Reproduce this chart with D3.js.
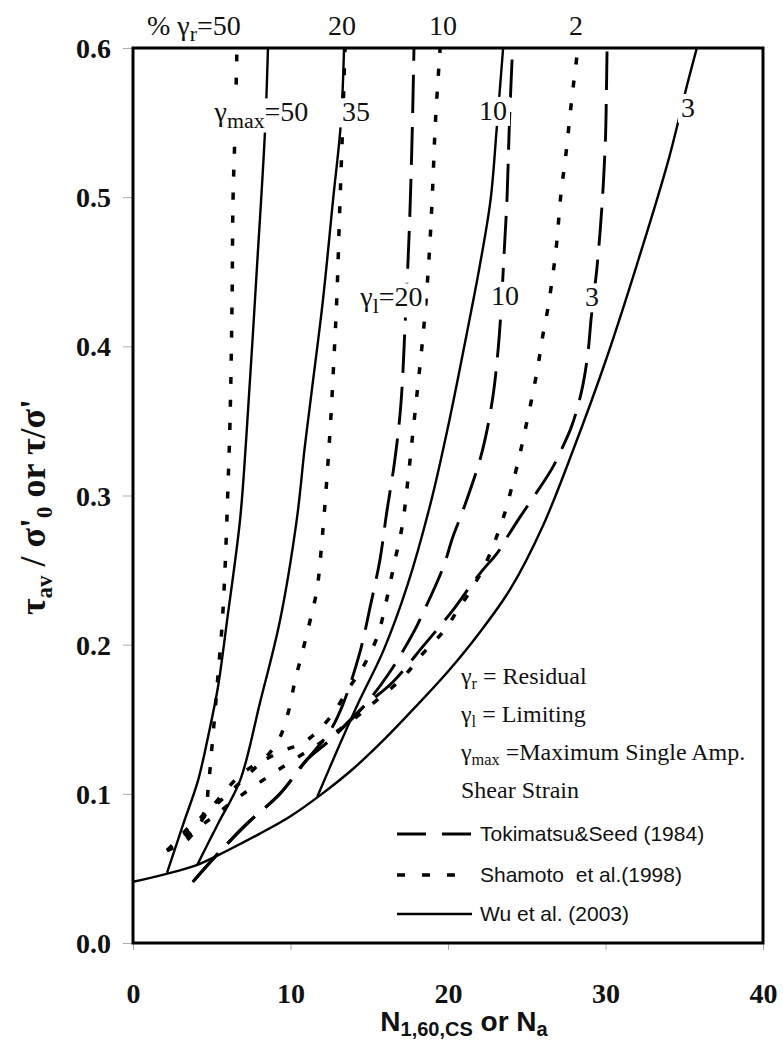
<!DOCTYPE html>
<html>
<head>
<meta charset="utf-8">
<script src="https://cdn.jsdelivr.net/npm/d3@7"></script>
<style>
  html, body { margin: 0; padding: 0; background: #fff; }
  svg { display: block; }
  text { white-space: pre; }
</style>
</head>
<body>
<svg id="chart" width="783" height="1040"></svg>
<script>
// ---------------- DATA ----------------
const xTicks = [0, 10, 20, 30, 40];
const yTicks = [0, 0.1, 0.2, 0.3, 0.4, 0.5, 0.6];

// Wu et al. (2003) - solid
const wu3  = [[0,0.041],[2,0.046],[4,0.052],[6,0.062],[8,0.073],[10,0.085],[12,0.1],[14,0.117],[16,0.137],[18,0.159],[20,0.182],[22,0.208],[24,0.238],[26,0.279],[28,0.332],[30,0.39],[32,0.455],[34,0.525],[35.2,0.576],[35.8,0.6]];
const wu10 = [[11.7,0.098],[13,0.13],[14.4,0.163],[15.9,0.196],[17.4,0.239],[18.9,0.295],[20.1,0.351],[21.2,0.409],[22.0,0.453],[22.7,0.498],[23.1,0.547],[23.5,0.6]];
const wu35 = [[4.06,0.052],[5.4,0.08],[6.8,0.109],[8.06,0.161],[9.33,0.216],[10.4,0.284],[10.9,0.332],[11.3,0.366],[12.06,0.431],[12.7,0.498],[13.2,0.55],[13.4,0.6]];
const wu50 = [[2.16,0.047],[3.2,0.08],[4.13,0.109],[4.8,0.14],[5.4,0.172],[5.97,0.216],[6.8,0.284],[7.2,0.34],[7.87,0.453],[8.38,0.544],[8.57,0.6]];

// Tokimatsu & Seed (1984) - long dashes
const tok20 = [[3.8,0.041],[5.4,0.06],[7.24,0.08],[9.33,0.1],[11.05,0.123],[12.5,0.142],[13.33,0.16],[14.41,0.195],[15.05,0.225],[15.68,0.257],[16.1,0.288],[16.6,0.322],[17.0,0.36],[17.3,0.42],[17.55,0.48],[17.72,0.54],[17.84,0.6]];
const tok10 = [[3.8,0.041],[5.4,0.06],[7.24,0.08],[9.33,0.1],[11.05,0.123],[12.5,0.136],[14.6,0.158],[16.2,0.18],[17.8,0.208],[18.4,0.221],[19.7,0.252],[20.3,0.272],[20.95,0.29],[22.03,0.324],[22.5,0.345],[22.9,0.37],[23.2,0.4],[23.4,0.43],[23.55,0.46],[23.75,0.5],[23.9,0.55],[24.1,0.6]];
const tok3  = [[3.8,0.041],[5.4,0.06],[7.24,0.08],[9.33,0.1],[11.05,0.123],[12.5,0.136],[14.6,0.158],[16.5,0.175],[18.5,0.2],[20.3,0.223],[21.4,0.239],[22.2,0.25],[23.1,0.261],[23.75,0.272],[24.6,0.286],[25.5,0.3],[26.6,0.318],[27.3,0.333],[27.8,0.345],[28.25,0.36],[28.6,0.376],[28.9,0.397],[29.1,0.42],[29.46,0.453],[29.8,0.498],[30.0,0.54],[30.05,0.565],[30.1,0.6]];

// Shamoto et al. (1998) - short dashes
const sha50 = [[2.2,0.062],[3.3,0.075],[4.5,0.087],[4.8,0.107],[5.0,0.13],[5.2,0.154],[5.4,0.18],[5.65,0.212],[5.84,0.25],[6.03,0.306],[6.16,0.35],[6.29,0.431],[6.35,0.498],[6.48,0.545],[6.6,0.6]];
const sha20 = [[2.16,0.062],[4.7,0.087],[7.62,0.116],[9.14,0.134],[9.84,0.154],[10.29,0.176],[10.73,0.194],[11.24,0.216],[11.68,0.237],[12.0,0.27],[12.3,0.31],[12.55,0.35],[12.75,0.39],[12.95,0.435],[13.12,0.49],[13.3,0.545],[13.46,0.6]];
const sha10 = [[2.16,0.062],[3.43,0.069],[4.7,0.087],[6.98,0.114],[9.14,0.127],[11.05,0.136],[12.5,0.151],[13.78,0.172],[14.6,0.185],[15.5,0.205],[16.1,0.23],[16.6,0.255],[17.1,0.28],[17.45,0.31],[17.75,0.34],[18.05,0.37],[18.3,0.395],[18.54,0.422],[18.8,0.46],[19.0,0.5],[19.2,0.55],[19.5,0.6]];
const sha2  = [[2.16,0.062],[4.5,0.08],[7,0.1],[9.5,0.118],[12,0.135],[14,0.15],[15.5,0.163],[17.14,0.178],[18.4,0.194],[19.8,0.21],[20.6,0.223],[21.6,0.239],[22.5,0.257],[23,0.27],[23.6,0.288],[24.06,0.306],[24.57,0.328],[24.9,0.344],[25.3,0.364],[25.7,0.386],[26,0.406],[26.35,0.426],[26.67,0.449],[26.9,0.469],[27.15,0.5],[27.5,0.53],[27.85,0.565],[28.25,0.6]];

// curve-label annotations (text, data x, data y)
const wuLabels  = [["γmax=50", 8.19, 0.557], ["35", 14.16, 0.557], ["10", 22.86, 0.558], ["3", 35.24, 0.56]];
const tokLabels = [["γl=20", 16.44, 0.433], ["10", 23.62, 0.434], ["3", 29.14, 0.433]];
const shaLabels = [["%γr=50", 0.89, 0.615], ["20", 13.27, 0.615], ["10", 19.68, 0.615], ["2", 28.13, 0.615]];

const defText  = ["γr = Residual", "γl = Limiting", "γmax =Maximum Single Amp.", "Shear Strain"];
const legendItems = ["Tokimatsu&Seed (1984)", "Shamoto  et al.(1998)", "Wu et al. (2003)"];

// ---------------- CHART ----------------
const svg = d3.select("#chart");
const L = 133, R = 763, T = 48, B = 943;
const x = d3.scaleLinear().domain([0, 40]).range([L, R]);
const y = d3.scaleLinear().domain([0, 0.6]).range([B, T]);

const serif = "'Liberation Serif', 'Times New Roman', serif";
const sans = "'Liberation Sans', Arial, sans-serif";

// axes (light ticks outside)
const xAxis = svg.append("g").attr("transform", `translate(0,${B})`)
  .call(d3.axisBottom(x).tickValues(xTicks).tickSize(7).tickFormat(d3.format("d")));
const yAxis = svg.append("g").attr("transform", `translate(${L},0)`)
  .call(d3.axisLeft(y).tickValues(yTicks).tickSize(10).tickPadding(12).tickFormat(d3.format(".1f")));
[xAxis, yAxis].forEach(g => {
  g.select(".domain").remove();
  g.selectAll(".tick line").attr("stroke", "#aaa").attr("stroke-width", 1);
  g.selectAll(".tick text").attr("fill", "#111").style("font-family", serif)
    .style("font-weight", "bold").style("font-size", "28px");
});
xAxis.selectAll(".tick text").attr("y", 60).attr("dy", "0");
yAxis.selectAll(".tick text").attr("dy", "0.34em");

// clip
svg.append("clipPath").attr("id", "plotclip").append("rect")
  .attr("x", L).attr("y", T).attr("width", R - L).attr("height", B - T);

const line = d3.line().x(d => x(d[0])).y(d => y(d[1])).curve(d3.curveCatmullRom.alpha(0.5));
const plot = svg.append("g").attr("clip-path", "url(#plotclip)");

const styles = {
  wu:  { dash: null, w: 2.4 },
  tok: { dash: "38,14", w: 2.9 },
  sha: { dash: "7,16", w: 3.5 }
};
function drawSet(arrs, st) {
  plot.selectAll(null).data(arrs).enter().append("path")
    .attr("d", line).attr("fill", "none").attr("stroke", "#000")
    .attr("stroke-width", st.w).attr("stroke-dasharray", st.dash)
    .attr("stroke-linecap", "butt").attr("stroke-linejoin", "round");
}
drawSet([sha50, sha20, sha10, sha2], styles.sha);
drawSet([tok20, tok10, tok3], styles.tok);
drawSet([wu3, wu10, wu35, wu50], styles.wu);

// label helper with subscript support
function addRich(g, txt, size, subScale) {
  const t = g.append("text").style("font-family", serif).style("font-size", size + "px").attr("fill", "#111");
  const m = txt.match(/^(%?)(γ)(max|r|l)(\s?=.*)$/);
  if (m) {
    if (m[1]) t.append("tspan").text("% ");
    t.append("tspan").text(m[2]);
    t.append("tspan").text(m[3]).style("font-size", (size * subScale) + "px").attr("dy", size * 0.22);
    t.append("tspan").text(m[4]).attr("dy", -size * 0.22);
  } else {
    t.text(txt);
  }
  return t;
}
function labelSet(arr, size, masked) {
  arr.forEach(([txt, dx, dy]) => {
    const g = svg.append("g");
    const bg = g.append("rect").attr("fill", "#fff");
    const t = addRich(g, txt, size, 0.78);
    t.attr("x", 0).attr("y", 0);
    const bb = t.node().getBBox();
    let tx = x(dx) - bb.width / 2;
    if (txt.startsWith("%")) tx = x(dx);
    const ty = y(dy) + size * 0.33;
    g.attr("transform", `translate(${tx},${ty})`);
    if (masked) bg.attr("x", bb.x - 3).attr("y", bb.y + 2).attr("width", bb.width + 6).attr("height", bb.height - 2);
    else bg.remove();
  });
}
labelSet(wuLabels, 28, true);
labelSet(tokLabels, 28, true);
labelSet(shaLabels, 28, false);

// frame
svg.append("rect").attr("x", L).attr("y", T).attr("width", R - L).attr("height", B - T)
  .attr("fill", "none").attr("stroke", "#000").attr("stroke-width", 3);

// definitions text
defText.forEach((s, i) => {
  const t = addRich(svg, s, 24, 0.68);
  t.attr("x", 461).attr("y", 684 + i * 38);
});

// legend
const legY = [834, 875, 914];
const legStyles = [styles.tok, styles.sha, styles.wu];
const legDash = ["29,16", "8,17", null];
legendItems.forEach((s, i) => {
  svg.append("line").attr("x1", 397).attr("x2", 472).attr("y1", legY[i]).attr("y2", legY[i])
    .attr("stroke", "#000").attr("stroke-width", legStyles[i].w).attr("stroke-dasharray", legDash[i]);
  svg.append("text").attr("x", 480).attr("y", legY[i] + 7).text(s)
    .style("font-family", sans).style("font-size", "21px").attr("fill", "#111");
});

// axis titles
const xt = svg.append("text").attr("x", 464).attr("y", 1031).attr("text-anchor", "middle")
  .style("font-family", sans).style("font-weight", "bold").style("font-size", "28px").attr("fill", "#111");
xt.append("tspan").text("N");
xt.append("tspan").text("1,60,CS").style("font-size", "20px").attr("dy", 5);
xt.append("tspan").text(" or N").attr("dy", -5);
xt.append("tspan").text("a").style("font-size", "20px").attr("dy", 5);

const yt = svg.append("text").attr("transform", "translate(45,507) rotate(-90)").attr("text-anchor", "middle")
  .style("font-family", serif).style("font-weight", "bold").style("font-size", "36px").attr("fill", "#111");
yt.append("tspan").text("τ");
yt.append("tspan").text("av").style("font-size", "23px").attr("dy", 7);
yt.append("tspan").text(" / σ'").attr("dy", -7);
yt.append("tspan").text("0").style("font-size", "23px").attr("dy", 7);
yt.append("tspan").text(" or τ/σ'").attr("dy", -7);
</script>
</body>
</html>
